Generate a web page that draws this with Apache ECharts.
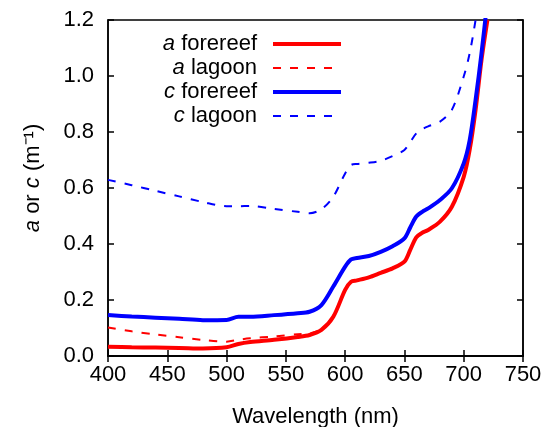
<!DOCTYPE html>
<html>
<head>
<meta charset="utf-8">
<script src="https://cdn.jsdelivr.net/npm/echarts@6/dist/echarts.min.js"></script>
<style>
  html, body { margin: 0; padding: 0; background: #fff; }
  #chart { width: 542px; height: 427px; }
</style>
</head>
<body>
<div id="chart"></div>
<script>
  // wavelength (nm)
  var wl = [400, 420, 440, 460, 480, 500, 510, 520, 540, 560, 570, 580, 590, 600, 605, 610, 620, 630, 640, 650, 655, 660, 665, 670, 680, 690, 700, 705, 710, 715, 720]
  var aForereef = [0.033, 0.031, 0.030, 0.029, 0.027, 0.031, 0.043, 0.050, 0.058, 0.068, 0.075, 0.093, 0.140, 0.236, 0.265, 0.270, 0.281, 0.297, 0.313, 0.337, 0.380, 0.424, 0.440, 0.450, 0.480, 0.533, 0.640, 0.736, 0.879, 1.057, 1.200]
  var aLagoon = [0.102, 0.088, 0.077, 0.067, 0.057, 0.051, 0.058, 0.063, 0.070, 0.078, 0.081, 0.095, 0.142, 0.238, 0.266, 0.271, 0.282, 0.298, 0.314, 0.338, 0.381, 0.425, 0.441, 0.451, 0.481, 0.534, 0.641, 0.737, 0.880, 1.058, 1.201]
  var cForereef = [0.146, 0.141, 0.137, 0.133, 0.128, 0.129, 0.140, 0.140, 0.146, 0.153, 0.158, 0.182, 0.248, 0.319, 0.345, 0.350, 0.357, 0.372, 0.392, 0.420, 0.460, 0.498, 0.515, 0.527, 0.557, 0.599, 0.688, 0.770, 0.914, 1.081, 1.270]
  var cLagoon = [0.629, 0.610, 0.590, 0.570, 0.550, 0.535, 0.535, 0.536, 0.525, 0.515, 0.510, 0.524, 0.569, 0.652, 0.682, 0.686, 0.690, 0.697, 0.714, 0.736, 0.765, 0.795, 0.810, 0.820, 0.837, 0.879, 0.998, 1.081, 1.200, 1.350, 1.500]
  var xTicks = [400, 450, 500, 550, 600, 650, 700, 750]
  var yTicks = [0, 0.2, 0.4, 0.6, 0.8, 1.0, 1.2]

  var font = 'Liberation Sans, Arial, sans-serif'
  var fs = 22

  function pairs (ys) {
    var out = []
    for (var i = 0; i < wl.length; i++) {
      out.push([wl[i], ys[i]])
    }
    return out
  }

  function makeSeries (name, ys, color, dashed) {
    return {
      name: name,
      type: 'line',
      data: pairs(ys),
      smooth: 0.3,
      showSymbol: false,
      symbol: 'none',
      clip: true,
      lineStyle: {
        color: color,
        width: dashed ? 2 : 4,
        type: dashed ? [8, 9] : 'solid',
      },
      itemStyle: { color: color },
    }
  }

  function legendItem (name, color, dashed) {
    return {
      name: name,
      lineStyle: { color: color, width: dashed ? 2 : 4, type: dashed ? [8, 9] : 'solid' },
    }
  }

  var chart = echarts.init(document.getElementById('chart'))
  var tickStyle = { show: true, inside: true, length: 6, lineStyle: { color: '#000', width: 1.5 } }

  var option = {
    animation: false,
    grid: {
      left: 108,
      right: 19,
      top: 20,
      bottom: 71,
      outerBoundsMode: 'none',
      show: true,
      borderColor: '#000',
      borderWidth: 1.5,
    },
    legend: {
      orient: 'vertical',
      right: 199,
      top: 33,
      padding: 0,
      align: 'right',
      itemWidth: 68,
      itemHeight: 20,
      itemGap: 2,
      itemStyle: { opacity: 0 },
      textStyle: {
        fontFamily: font,
        fontSize: fs,
        lineHeight: 20,
        color: '#000',
        padding: [0, 11, 0, 0],
        rich: {
          i: { fontFamily: font, fontSize: fs, lineHeight: 20, fontStyle: 'italic', color: '#000' },
        },
      },
      formatter: function (name) {
        var parts = name.split(' ')
        return '{i|' + parts[0] + '} ' + parts[1]
      },
      data: [
        legendItem('a forereef', '#ff0000', false),
        legendItem('a lagoon', '#ff0000', true),
        legendItem('c forereef', '#0000ff', false),
        legendItem('c lagoon', '#0000ff', true),
      ],
    },
    xAxis: [{
      type: 'value',
      min: 400,
      max: 750,
      interval: 50,
      name: 'Wavelength (nm)',
      nameLocation: 'middle',
      nameGap: 50,
      nameTextStyle: { fontFamily: font, fontSize: fs, color: '#000' },
      axisLine: { show: true, lineStyle: { color: '#000', width: 1.5 } },
      axisTick: tickStyle,
      splitLine: { show: false },
      axisLabel: {
        fontFamily: font, fontSize: fs, color: '#000', margin: 8,
        customValues: xTicks,
      },
    }, {
      type: 'value',
      position: 'top',
      min: 400,
      max: 750,
      interval: 50,
      axisLine: { show: true, lineStyle: { color: '#000', width: 1.5 } },
      axisTick: tickStyle,
      axisLabel: { show: false },
      splitLine: { show: false },
    }],
    yAxis: [{
      type: 'value',
      min: 0,
      max: 1.2,
      interval: 0.2,
      name: '{i|a} or {i|c} (m\u207B\u00B9)',
      nameLocation: 'middle',
      nameGap: 64,
      nameTextStyle: {
        fontFamily: font, fontSize: fs, color: '#000',
        padding: [0, 0, 0, 20],
        rich: { i: { fontFamily: font, fontSize: fs, fontStyle: 'italic', color: '#000' } },
      },
      axisLine: { show: true, lineStyle: { color: '#000', width: 1.5 } },
      axisTick: tickStyle,
      splitLine: { show: false },
      axisLabel: {
        fontFamily: font, fontSize: fs, color: '#000', margin: 14,
        customValues: yTicks,
        formatter: function (v) { return v.toFixed(1) },
      },
    }, {
      type: 'value',
      position: 'right',
      min: 0,
      max: 1.2,
      interval: 0.2,
      axisLine: { show: true, lineStyle: { color: '#000', width: 1.5 } },
      axisTick: tickStyle,
      axisLabel: { show: false },
      splitLine: { show: false },
    }],
    series: [
      makeSeries('a forereef', aForereef, '#ff0000', false),
      makeSeries('a lagoon', aLagoon, '#ff0000', true),
      makeSeries('c forereef', cForereef, '#0000ff', false),
      makeSeries('c lagoon', cLagoon, '#0000ff', true),
    ],
  }
  chart.setOption(option)
</script>
</body>
</html>
